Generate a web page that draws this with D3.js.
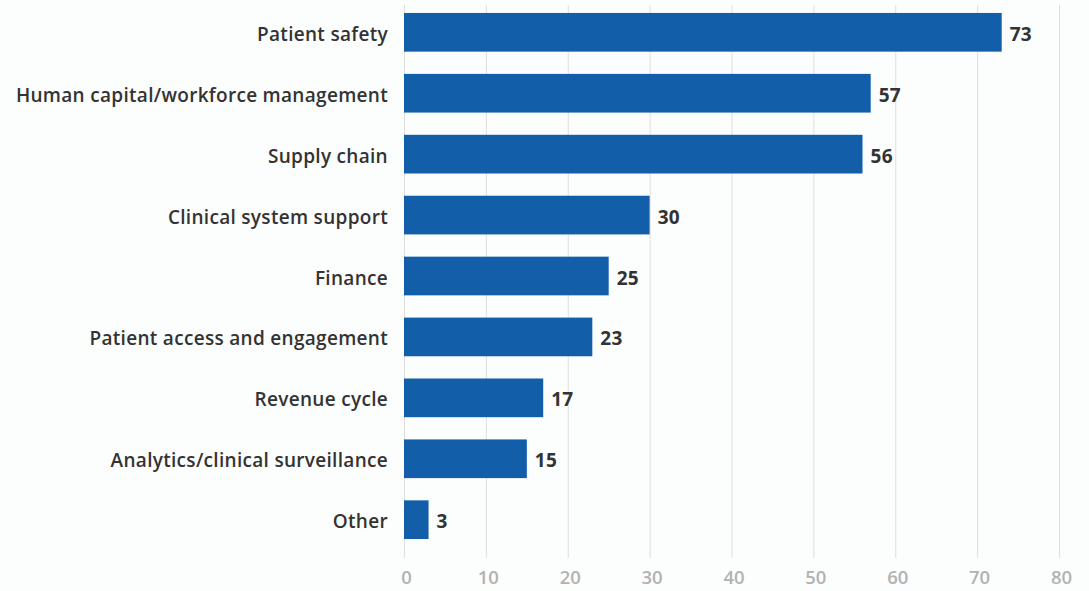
<!DOCTYPE html>
<html>
<head>
<meta charset="utf-8">
<script src="https://cdn.jsdelivr.net/npm/d3@7"></script>
<style>
  html, body { margin: 0; padding: 0; background: #fcfdfd; }
  svg { display: block; }
  .cat { font-family: "Open Sans", Lato, sans-serif; font-weight: 600; font-size: 19px; letter-spacing: 0.3px; fill: #333; }
  .val { font-family: "Open Sans", Lato, sans-serif; font-weight: 700; font-size: 19px; letter-spacing: 0.3px; fill: #333; }
  .tick text { font-family: "Open Sans", Lato, sans-serif; font-weight: 600; font-size: 18.5px; fill: #b2b2b2; }
</style>
</head>
<body>
<svg id="chart" width="1089" height="591"></svg>
<script>
const categories = [
  "Patient safety",
  "Human capital/workforce management",
  "Supply chain",
  "Clinical system support",
  "Finance",
  "Patient access and engagement",
  "Revenue cycle",
  "Analytics/clinical surveillance",
  "Other"
];
const values = [73, 57, 56, 30, 25, 23, 17, 15, 3];
const xTicks = [0, 10, 20, 30, 40, 50, 60, 70, 80];

const svg = d3.select("#chart");
const plotLeft = 404, plotRight = 1059, plotTop = 2, plotBottom = 550;

const x = d3.scaleLinear().domain([0, 80]).range([plotLeft, plotRight]);
const y = d3.scaleBand().domain(categories).range([plotTop, plotBottom]).paddingInner(0.365).paddingOuter(0.18);

// vertical grid lines
svg.append("g").selectAll("line").data(xTicks).join("line")
  .attr("x1", d => x(d) + 0.5).attr("x2", d => x(d) + 0.5)
  .attr("y1", 5).attr("y2", 558)
  .attr("stroke", "#dedede").attr("stroke-width", 1);

// x axis tick labels
const axis = svg.append("g").attr("transform", "translate(2,569)")
  .call(d3.axisBottom(x).tickValues(xTicks).tickSize(0).tickPadding(0));
axis.select(".domain").remove();
axis.selectAll("text").attr("dy", "0.8em");

// bars
svg.append("g").selectAll("rect").data(values).join("rect")
  .attr("x", x(0))
  .attr("y", (d, i) => y(categories[i]))
  .attr("width", d => x(d) - x(0))
  .attr("height", y.bandwidth())
  .attr("fill", "#125ea9");

// value labels
svg.append("g").selectAll("text").data(values).join("text")
  .attr("class", "val")
  .attr("x", d => x(d) + 8)
  .attr("y", (d, i) => y(categories[i]) + y.bandwidth() / 2)
  .attr("dy", "0.45em")
  .text(d => d);

// category labels
svg.append("g").selectAll("text").data(categories).join("text")
  .attr("class", "cat")
  .attr("x", 388)
  .attr("y", d => y(d) + y.bandwidth() / 2)
  .attr("dy", "0.45em")
  .attr("text-anchor", "end")
  .text(d => d);
</script>
</body>
</html>
